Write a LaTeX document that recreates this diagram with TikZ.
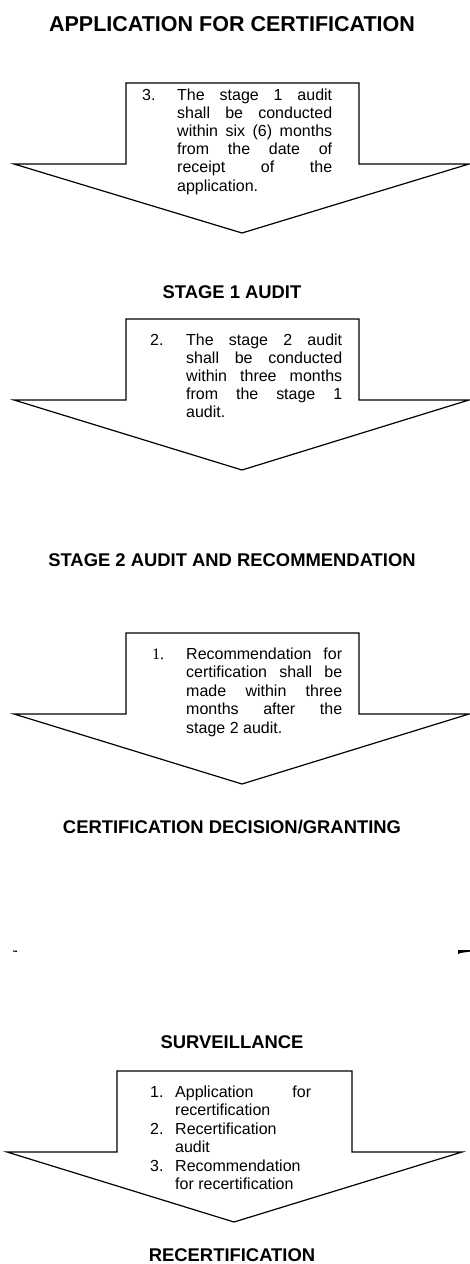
\documentclass[tikz,border=0pt]{standalone}
\usepackage{fontspec}
\setmainfont{Liberation Sans}
\newfontfamily\timesfont{Liberation Serif}
\begin{document}
\begin{tikzpicture}[x=1pt,y=-1pt,
  arrowline/.style={draw=black, line width=1.2pt, line join=miter},
  title/.style={font=\bfseries\fontsize{18.4}{20}\selectfont, inner sep=0pt, anchor=base},
  bigtitle/.style={font=\bfseries\fontsize{21.5}{24}\selectfont, inner sep=0pt, anchor=base},
  body/.style={font=\fontsize{16}{18}\selectfont, inner sep=0pt, anchor=base west},
  serifnum/.style={font=\timesfont\fontsize{16}{18}\selectfont, inner sep=0pt, anchor=base west}]
\useasboundingbox (0,0) rectangle (470,1264);

% Titles
\node[bigtitle] (t1) at (232,31) {APPLICATION FOR CERTIFICATION};
\node[title] (t2) at (232,298) {STAGE 1 AUDIT};
\node[title] (t3) at (232,566) {STAGE 2 AUDIT AND RECOMMENDATION};
\node[title] (t4) at (232,833) {CERTIFICATION DECISION/GRANTING};
\node[title] (t5) at (232,1048) {SURVEILLANCE};
\node[title] (t6) at (232,1261.5) {RECERTIFICATION};

% Arrow 1
\draw[arrowline] (126,164) -- (126,83) -- (359,83) -- (359,164) -- (469,164) -- (242,233) -- (14,164) -- cycle;
\node[body] (n1) at (142,100) {3.};
\node[body] (a1a) at (177,100) {\makebox[155pt][s]{The stage 1 audit}};
\node[body] (a1b) at (177,118.2) {\makebox[155pt][s]{shall be conducted}};
\node[body] (a1c) at (177,136.4) {\makebox[155pt][s]{within six (6) months}};
\node[body] (a1d) at (177,154.6) {\makebox[155pt][s]{from the date of}};
\node[body] (a1e) at (177,172.8) {\makebox[155pt][s]{receipt of the}};
\node[body] (a1f) at (177,191) {application.};

% Arrow 2
\draw[arrowline] (126,400) -- (126,319) -- (359,319) -- (359,400) -- (469,400) -- (242,470) -- (14,400) -- cycle;
\node[body] (n2) at (150,345) {2.};
\node[body] (a2a) at (186,345) {\makebox[156pt][s]{The stage 2 audit}};
\node[body] (a2b) at (186,363.2) {\makebox[156pt][s]{shall be conducted}};
\node[body] (a2c) at (186,381.4) {\makebox[156pt][s]{within three months}};
\node[body] (a2d) at (186,399.6) {\makebox[156pt][s]{from the stage 1}};
\node[body] (a2e) at (186,417.8) {audit.};

% Arrow 3
\draw[arrowline] (126,714) -- (126,633) -- (359,633) -- (359,714) -- (469,714) -- (242,784) -- (14,714) -- cycle;
\node[serifnum] (n3) at (152,659) {1.};
\node[body] (a3a) at (186,659) {\makebox[156pt][s]{Recommendation for}};
\node[body] (a3b) at (186,677.5) {\makebox[156pt][s]{certification shall be}};
\node[body] (a3c) at (186,696) {\makebox[156pt][s]{made within three}};
\node[body] (a3d) at (186,714.5) {\makebox[156pt][s]{months after the}};
\node[body] (a3e) at (186,733) {stage 2 audit.};

% Fragments
\draw[line width=1.1pt] (13,951) -- (17,951.3);
\fill[black] (458,950) -- (470,950) -- (470,951.6) -- (460,953) -- (458,954.3) -- cycle;

% Arrow 4
\draw[arrowline] (117,1152) -- (117,1071) -- (352,1071) -- (352,1152) -- (462,1152) -- (234,1222) -- (7,1152) -- cycle;
\node[body] (n4a) at (150,1097) {1.};
\node[body] (a4a) at (175,1097) {\makebox[136pt][s]{Application for}};
\node[body] (a4b) at (175,1115.5) {recertification};
\node[body] (n4b) at (150,1134) {2.};
\node[body] (a4c) at (175,1134) {Recertification};
\node[body] (a4d) at (175,1152.5) {audit};
\node[body] (n4c) at (150,1171) {3.};
\node[body] (a4e) at (175,1171) {Recommendation};
\node[body] (a4f) at (175,1189.5) {for recertification};
\end{tikzpicture}
\end{document}
